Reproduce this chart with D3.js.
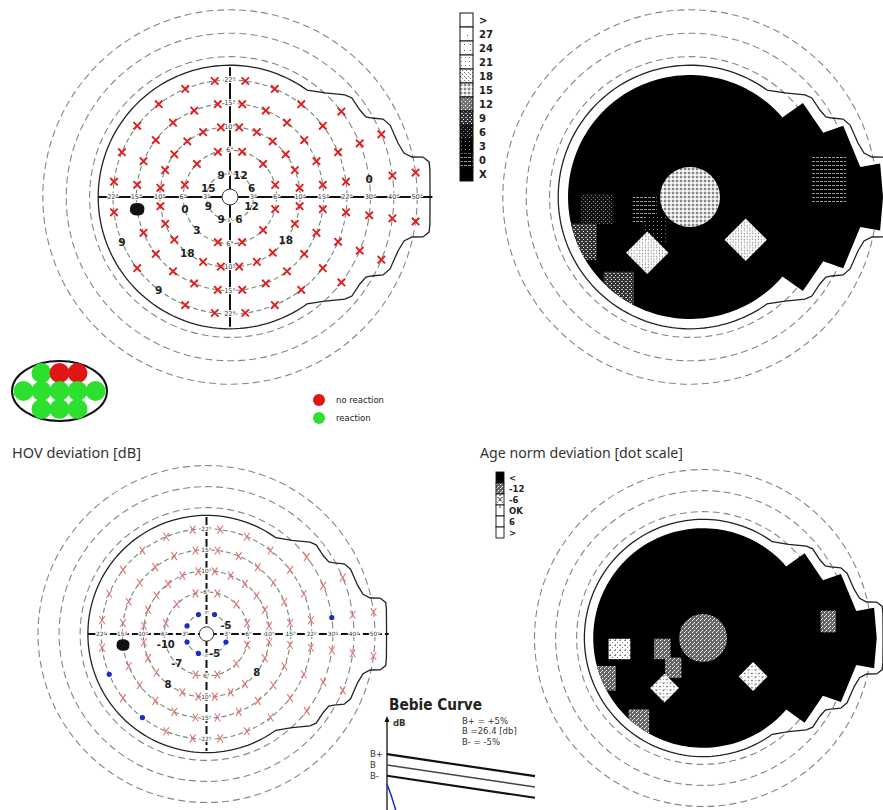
<!DOCTYPE html>
<html><head><meta charset="utf-8">
<script src="https://cdn.jsdelivr.net/npm/d3@7"></script>
<style>body{margin:0;background:#fff}svg{display:block}</style>
</head><body><svg id="c" width="883" height="810"></svg>
<script>
// ---------------- DATA ----------------
const ringEcc = [3, 6, 10, 15, 22, 30, 40, 50];
const anglesRing3 = [22.5, 67.5, 112.5, 157.5, 202.5, 247.5, 292.5, 337.5];
const anglesRing6 = [15, 45, 75, 105, 135, 165, 195, 225, 255, 285, 315, 345];
const anglesRing10to22 = [7.5, 22.5, 37.5, 52.5, 67.5, 82.5, 97.5, 112.5, 127.5, 142.5, 157.5, 172.5,
  187.5, 202.5, 217.5, 232.5, 247.5, 262.5, 277.5, 292.5, 307.5, 322.5, 337.5, 352.5];
const anglesRing30 = [7.5, 22.5, 37.5, 322.5, 337.5, 352.5];
const anglesRing40 = [7.5, 22.5, 337.5, 352.5];
const anglesRing50 = [7.5, 352.5];
const blindSpot = [15, 187.5];
// threshold values seen [ecc, angle, dB]; all other test points: no reaction (x)
const thresholdPoints = [[3,22.5,6],[3,67.5,12],[3,112.5,9],[3,157.5,15],[3,202.5,9],[3,247.5,9],
  [3,292.5,6],[3,337.5,12],[6,195,0],[6,225,3],[10,232.5,18],[10,322.5,18],[22,202.5,9],[22,232.5,9],[30,7.5,0]];
// HOV deviation [dB]
const deviationNumbers = [[3,22.5,-5],[3,292.5,-5],[6,195,-10],[6,225,-7],[10,232.5,8],[10,322.5,8]];
const deviationDots = [[3,67.5],[3,112.5],[3,157.5],[3,202.5],[3,247.5],[3,337.5],[22,202.5],[22,232.5],[30,7.5]];
// field limit: circular radius (deg) + nasal step [angle, ecc]
const fieldLimitRadius = 27.06;
const fieldLimitNasal = [[54.26,27.06],[47.6,30.2],[41.6,35.7],[39.1,37.1],[33.8,36.8],[30.5,37.4],[29.1,39.4],
  [27.0,43.4],[24.2,45.0],[17.8,45.4],[14.2,46.7],[12.4,49.6],[11.7,54.2],[10.0,56.4],[7.7,56.2],[0,55.5]];
// dot-scale map: area of no reaction
const mapRadius = 23.7;
const mapNasal = [[40.7,23.8],[39.8,32.8],[25.7,33.2],[24.9,42.2],[10,43.9],[10,52.5],[0,52.5]];
// legends
const greyLegendLabels = ['>', '27', '24', '21', '18', '15', '12', '9', '6', '3', '0', 'X'];
const greyLegendPatterns = ['pGT','p27','p24','p21','p18','p15','p12','p9','p6','p3','p0','pX'];
const devLegendLabels = ['<', '-12', '-6', 'OK', '6', '>'];
const devLegendPatterns = ['pX','pd12','pdx','pdok','pGT','pGT'];
// reaction ellipse [col, row, reacted]
const reactionCells = [[-1,0,1],[0,0,0],[1,0,0],[-2,1,1],[-1,1,1],[0,1,1],[1,1,1],[2,1,1],[-1,2,1],[0,2,1],[1,2,1]];
// Bebie curve
const bebieRank = [0, 60];
const bebieBplus = [27.7, 25.05];
const bebieB = [26.4, 23.75];
const bebieBminus = [25.1, 22.45];
const patientRank = [0, 1.6, 3.2, 4.6];
const patientDb = [24.1, 22.8, 21.3, 19.6];

// ---------------- DRAW ----------------
const svg = d3.select('#c');
const defs = svg.append('defs');
function pat(id, w, h, bg, rects){
  const p = defs.append('pattern').attr('id', id).attr('patternUnits','userSpaceOnUse').attr('width', w).attr('height', h);
  p.append('rect').attr('width', w).attr('height', h).attr('fill', bg);
  rects.forEach(r => p.append('rect').attr('x', r[0]).attr('y', r[1]).attr('width', r[2]).attr('height', r[3]).attr('fill', r[4]));
}
pat('pGT',4,4,'#fff',[]);
pat('p27',8,8,'#fff',[[3,3,1,1,'#666']]);
pat('p24',6,6,'#fff',[[2,2,1,1,'#555']]);
pat('p21',4,4,'#fff',[[1,1,1,1,'#888']]);
pat('p18',4,4,'#fff',[[0,0,1,1,'#777'],[2,2,1,1,'#777'],[1,1,1,1,'#bbb']]);
pat('p15',4,4,'#ddd',[[0,0,2,2,'#888'],[2,2,2,2,'#fff']]);
pat('p12',4,4,'#777',[[1,1,1,1,'#fff'],[3,3,1,1,'#ccc']]);
pat('p9',4,4,'#333',[[1,1,2,1,'#bbb'],[3,3,1,1,'#fff']]);
pat('p6',4,4,'#111',[[1,1,1,1,'#999'],[3,3,1,1,'#777']]);
pat('p3',4,4,'#000',[[1,1,1,1,'#888']]);
pat('p0',4,4,'#000',[[0,1,3,1,'#999']]);
pat('pX',4,4,'#000',[]);
pat('pd12',4,4,'#666',[[0,0,1,1,'#fff'],[2,2,1,1,'#fff'],[1,3,1,1,'#ccc']]);
pat('pdx',5,5,'#fff',[[0,0,1,1,'#777'],[2,2,1,1,'#777'],[4,0,1,1,'#999'],[0,4,1,1,'#999']]);
pat('pdok',4,4,'#fff',[]);

const thrPattern = v => v >= 18 ? 'p18' : v >= 15 ? 'p15' : v >= 12 ? 'p12' : v >= 9 ? 'p9' : v >= 6 ? 'p6' : v >= 3 ? 'p3' : 'p0';

function makePlot(cx, cy, k){
  const r = d3.scaleLinear().domain([0].concat(ringEcc)).range(d3.range(9).map(i => i * 23.4 * k));
  const P = (ecc, ang) => { const a = ang * Math.PI / 180, rr = r(ecc); return [cx + rr * Math.cos(a), cy - rr * Math.sin(a)]; };
  return {cx, cy, k, r, P};
}
const TL = makePlot(230, 197, 1), TR = makePlot(690, 197, 1), BL = makePlot(206.5, 634, 0.9), BR = makePlot(703, 638, 0.9);

function polarOutline(pl, radius, nasal){
  const pts = [];
  const a0 = nasal[0][0];
  for (let a = a0; a <= 360 - a0 + 1e-9; a += 2) pts.push(pl.P(radius, a));
  pts.push(pl.P(radius, 360 - a0));
  nasal.slice(1).forEach(d => pts.push(pl.P(d[1], -d[0])));
  nasal.slice(0, -1).reverse().forEach(d => pts.push(pl.P(d[1], d[0])));
  return d3.line()(pts) + 'Z';
}

function rings(g, pl){
  g.selectAll('circle.ring').data(ringEcc).join('circle').attr('class','ring')
    .attr('cx', pl.cx).attr('cy', pl.cy).attr('r', d => pl.r(d)).attr('fill','none')
    .attr('stroke', d => d <= 22 ? '#6c8a7b' : '#858585')
    .attr('stroke-width', 1.1).attr('stroke-dasharray', d => d <= 22 ? '5,3' : '7,4');
}
function boundary(g, pl){
  g.append('path').attr('d', polarOutline(pl, fieldLimitRadius, fieldLimitNasal))
    .attr('fill','none').attr('stroke','#222').attr('stroke-width', 1.3);
}
function axes(g, pl, dashed, fs){
  const st = sel => sel.attr('stroke','#111').attr('stroke-width', 2).attr('stroke-dasharray', dashed ? '8,3' : null);
  const h0 = pl.P(fieldLimitRadius, 180), h1 = pl.P(56.5, 0), v0 = pl.P(26.4, 90), v1 = pl.P(26.4, 270);
  st(g.append('line').attr('x1', h0[0]).attr('y1', h0[1]).attr('x2', h1[0]).attr('y2', h1[1]));
  st(g.append('line').attr('x1', v0[0]).attr('y1', v0[1]).attr('x2', v1[0]).attr('y2', v1[1]));
  const labs = [];
  ringEcc.forEach(e => labs.push([e, 0]));
  ringEcc.filter(e => e <= 22).forEach(e => { labs.push([e, 180]); labs.push([e, 90]); labs.push([e, 270]); });
  g.selectAll('text.tick').data(labs).join('text').attr('class','tick')
    .attr('x', d => pl.P(d[0], d[1])[0]).attr('y', d => pl.P(d[0], d[1])[1])
    .attr('text-anchor','middle').attr('dominant-baseline','central')
    .attr('font-family','DejaVu Sans, sans-serif').attr('font-size', d => (d[0] === 3 && (d[1] === 90 || d[1] === 270)) ? fs * 0.72 : fs)
    .attr('fill','#333')
    .attr('stroke','#fff').attr('stroke-width', 2.2).attr('paint-order','stroke')
    .text(d => d[0] + '°');
  g.append('circle').attr('cx', pl.cx).attr('cy', pl.cy).attr('r', 8 * pl.k).attr('fill','#fff').attr('stroke','#333').attr('stroke-width', 1);
}
const testPoints = [].concat(
  anglesRing3.map(a => [3, a]), anglesRing6.map(a => [6, a]),
  anglesRing10to22.map(a => [10, a]), anglesRing10to22.map(a => [15, a]), anglesRing10to22.map(a => [22, a]),
  anglesRing30.map(a => [30, a]), anglesRing40.map(a => [40, a]), anglesRing50.map(a => [50, a]));
const key = (e, a) => e + '_' + a;

function blind(g, pl){
  const p = pl.P(blindSpot[0], blindSpot[1]);
  g.append('path').attr('transform', `translate(${p[0]},${p[1]}) scale(${pl.k})`)
    .attr('d','M-7,-2 Q-6,-6 -2,-6 Q2,-7 5,-5 Q8,-3 7,1 Q7,5 3,6 Q-2,7 -5,5 Q-8,3 -7,-2Z').attr('fill','#111');
}

// ---- top-left: thresholds ----
{
  const g = svg.append('g'), pl = TL;
  rings(g, pl); boundary(g, pl); axes(g, pl, false, 6.5);
  const valued = new Set(thresholdPoints.map(d => key(d[0], d[1])));
  valued.add(key(blindSpot[0], blindSpot[1]));
  const xs = testPoints.filter(d => !valued.has(key(d[0], d[1])));
  g.selectAll('path.x').data(xs).join('path').attr('class','x')
    .attr('transform', d => `translate(${pl.P(d[0], d[1])})`)
    .attr('d','M-3.7,-3.7L3.7,3.7M3.7,-3.7L-3.7,3.7').attr('stroke','#e01e1e').attr('stroke-width', 1.9).attr('fill','none');
  g.selectAll('text.v').data(thresholdPoints).join('text').attr('class','v')
    .attr('x', d => pl.P(d[0], d[1])[0] + (d[0] === 3 && d[1] === 67.5 ? 1.5 : 0)).attr('y', d => pl.P(d[0], d[1])[1])
    .attr('text-anchor','middle').attr('dominant-baseline','central')
    .attr('font-family','DejaVu Sans, sans-serif').attr('font-weight','bold').attr('font-size', 10.5).attr('fill','#222')
    .text(d => d[2]);
  blind(g, pl);
}
// ---- bottom-left: deviation ----
{
  const g = svg.append('g'), pl = BL;
  rings(g, pl); boundary(g, pl); axes(g, pl, true, 5.8);
  const valued = new Set(deviationNumbers.map(d => key(d[0], d[1])).concat(deviationDots.map(d => key(d[0], d[1]))));
  valued.add(key(blindSpot[0], blindSpot[1]));
  const xs = testPoints.filter(d => !valued.has(key(d[0], d[1])));
  g.selectAll('path.x').data(xs).join('path').attr('class','x')
    .attr('transform', d => `translate(${pl.P(d[0], d[1])})`)
    .attr('d','M-2.8,-4L2.8,4M2.8,-4L-2.8,4').attr('stroke','#e07474').attr('stroke-width', 1.1).attr('fill','none');
  g.selectAll('circle.dot').data(deviationDots).join('circle').attr('class','dot')
    .attr('cx', d => pl.P(d[0], d[1])[0]).attr('cy', d => pl.P(d[0], d[1])[1]).attr('r', 2.6).attr('fill','#1c2cc4');
  g.selectAll('text.v').data(deviationNumbers).join('text').attr('class','v')
    .attr('x', d => pl.P(d[0], d[1])[0]).attr('y', d => pl.P(d[0], d[1])[1])
    .attr('text-anchor','middle').attr('dominant-baseline','central')
    .attr('font-family','DejaVu Sans, sans-serif').attr('font-weight','bold').attr('font-size', 10).attr('fill','#222')
    .text(d => d[2]);
  blind(g, pl);
}
// ---- right maps ----
function mapPlot(pl, id, cells, centerPattern, ps, centerR){
  const g = svg.append('g');
  rings(g, pl); boundary(g, pl);
  const d = polarOutline(pl, mapRadius, mapNasal);
  defs.append('clipPath').attr('id', id).append('path').attr('d', d);
  g.append('path').attr('d', d).attr('fill','#000');
  const cg = g.append('g').attr('clip-path', `url(#${id})`);
  const size = {6: 24, 10: 30, 15: 32, 22: 30, 30: 34};
  const hsize = {6: 30, 10: 30, 15: 30, 22: 36, 30: 48};
  cg.selectAll('rect.cell').data(cells).join('rect').attr('class','cell')
    .attr('x', c => pl.P(c[0], c[1])[0] - size[c[0]] * ps(c[0]) / 2)
    .attr('y', c => pl.P(c[0], c[1])[1] - hsize[c[0]] * ps(c[0]) / 2)
    .attr('width', c => size[c[0]] * ps(c[0])).attr('height', c => hsize[c[0]] * ps(c[0]))
    .attr('transform', c => c[0] === 10 ? `rotate(45,${pl.P(c[0], c[1])})` : null)
    .attr('fill', c => `url(#${c[2]})`);
  cg.append('circle').attr('cx', pl.cx).attr('cy', pl.cy).attr('r', centerR).attr('fill', `url(#${centerPattern})`);
}
mapPlot(TR, 'clipTR',
  thresholdPoints.filter(d => d[0] > 3).map(d => [d[0], d[1], thrPattern(d[2])]).concat([[blindSpot[0], blindSpot[1], 'p6']]),
  'p15', e => 1, 30);
mapPlot(BR, 'clipBR',
  deviationNumbers.filter(d => d[0] > 3).map(d => [d[0], d[1], d[2] > 0 ? 'pdx' : 'pd12'])
    .concat(deviationDots.filter(d => d[0] > 3).map(d => [d[0], d[1], 'pd12']))
    .concat([[blindSpot[0], blindSpot[1], 'pdx']]),
  'pd12', e => e === 30 ? 0.45 : 0.68, 24);

// ---- grey scale legend ----
{
  const g = svg.append('g');
  const y = d3.scaleBand().domain(greyLegendLabels).range([13, 181]);
  g.selectAll('rect').data(greyLegendLabels).join('rect').attr('x', 460).attr('y', d => y(d))
    .attr('width', 13).attr('height', y.bandwidth()).attr('fill', (d, i) => `url(#${greyLegendPatterns[i]})`)
    .attr('stroke','#111').attr('stroke-width', 1);
  g.selectAll('text').data(greyLegendLabels).join('text').attr('x', 479).attr('y', d => y(d) + y.bandwidth() / 2)
    .attr('dominant-baseline','central').attr('font-family','DejaVu Sans, sans-serif').attr('font-weight','bold')
    .attr('font-size', 10).attr('fill','#222').text(d => d);
}
// ---- deviation legend ----
{
  const g = svg.append('g');
  const y = d3.scaleBand().domain(devLegendLabels).range([472, 538]);
  g.selectAll('rect').data(devLegendLabels).join('rect').attr('x', 496).attr('y', d => y(d))
    .attr('width', 8).attr('height', y.bandwidth()).attr('fill', (d, i) => `url(#${devLegendPatterns[i]})`)
    .attr('stroke','#111').attr('stroke-width', 0.9);
  g.append('text').attr('x', 500).attr('y', y('-6') + y.bandwidth() / 2).attr('text-anchor','middle').attr('dominant-baseline','central')
    .attr('font-family','DejaVu Sans, sans-serif').attr('font-size', 8).attr('fill','#444').text('×');
  g.append('rect').attr('x', 499.5).attr('y', y('OK') + 1).attr('width', 1).attr('height', 2).attr('fill','#444');
  g.selectAll('text.l').data(devLegendLabels).join('text').attr('class','l').attr('x', 509).attr('y', d => y(d) + y.bandwidth() / 2)
    .attr('dominant-baseline','central').attr('font-family','DejaVu Sans, sans-serif').attr('font-weight','bold')
    .attr('font-size', 8.5).attr('fill','#222').text(d => d);
}
// ---- reaction ellipse ----
{
  const g = svg.append('g');
  const cx = 59.5, cy = 391;
  const x = d3.scaleLinear().domain([-2, 2]).range([cx - 36, cx + 36]);
  const y = d3.scaleLinear().domain([0, 2]).range([373, 409]);
  g.append('ellipse').attr('cx', cx).attr('cy', cy).attr('rx', 47.5).attr('ry', 30).attr('fill','#fff').attr('stroke','#111').attr('stroke-width', 2);
  g.selectAll('circle').data(reactionCells).join('circle').attr('cx', d => x(d[0])).attr('cy', d => y(d[1])).attr('r', 10)
    .attr('fill', d => d[2] ? '#2ee02e' : '#e21515');
  const lg = svg.append('g');
  [['no reaction', '#e21515', 400], ['reaction', '#2ee02e', 418]].forEach(d => {
    lg.append('circle').attr('cx', 319).attr('cy', d[2]).attr('r', 6).attr('fill', d[1]);
    lg.append('text').attr('x', 336).attr('y', d[2]).attr('dominant-baseline','central')
      .attr('font-family','DejaVu Sans, sans-serif').attr('font-size', 8.5).attr('fill','#222').text(d[0]);
  });
}
// ---- titles ----
svg.append('text').attr('x', 12).attr('y', 458).attr('font-family','Noto Sans, DejaVu Sans, sans-serif').attr('font-size', 15)
  .attr('fill','#333').attr('textLength', 129).attr('lengthAdjust','spacingAndGlyphs').text('HOV deviation [dB]');
svg.append('text').attr('x', 480).attr('y', 458).attr('font-family','Noto Sans, DejaVu Sans, sans-serif').attr('font-size', 15)
  .attr('fill','#333').attr('textLength', 203).attr('lengthAdjust','spacingAndGlyphs').text('Age norm deviation [dot scale]');
// ---- Bebie curve ----
{
  const g = svg.append('g');
  const x = d3.scaleLinear().domain([0, 60]).range([387, 535]);
  const y = d3.scaleLinear().domain([20, 30]).range([818.1, 735.1]);
  g.append('text').attr('x', 389).attr('y', 710).attr('font-family','DejaVu Sans, sans-serif').attr('font-weight','bold')
    .attr('font-size', 15).attr('fill','#222').attr('textLength', 93).attr('lengthAdjust','spacingAndGlyphs').text('Bebie Curve');
  g.append('line').attr('x1', x(0)).attr('x2', x(0)).attr('y1', 719).attr('y2', 810).attr('stroke','#111').attr('stroke-width', 1.3);
  g.append('path').attr('d', `M${x(0)},716L${x(0) - 2.5},722L${x(0) + 2.5},722Z`).attr('fill','#111');
  g.append('text').attr('x', 393).attr('y', 726).attr('font-family','DejaVu Sans, sans-serif').attr('font-size', 8.5).attr('font-weight','bold').attr('fill','#333').text('dB');
  [['B+ = +5%', 724], ['B =26.4 [db]', 734], ['B- = -5%', 745]].forEach(t =>
    g.append('text').attr('x', 462).attr('y', t[1]).attr('font-family','DejaVu Sans, sans-serif').attr('font-size', 8.5).attr('fill','#333').text(t[0]));
  const line = d3.line().x(d => x(d[0])).y(d => y(d[1]));
  const series = [[bebieBplus, '#111', 2.2, 'B+'], [bebieB, '#444', 1.4, 'B'], [bebieBminus, '#111', 2.2, 'B-']];
  series.forEach(s => {
    g.append('path').attr('d', line(bebieRank.map((r, i) => [r, s[0][i]]))).attr('stroke', s[1]).attr('stroke-width', s[2]).attr('fill','none');
    g.append('text').attr('x', 370).attr('y', y(s[0][0])).attr('dominant-baseline','central')
      .attr('font-family','DejaVu Sans, sans-serif').attr('font-size', 8.5).attr('fill','#333').text(s[3]);
  });
  g.append('path').attr('d', line(patientRank.map((r, i) => [r, patientDb[i]]))).attr('stroke','#1a2bd0').attr('stroke-width', 1.5).attr('fill','none');
}
</script></body></html>
